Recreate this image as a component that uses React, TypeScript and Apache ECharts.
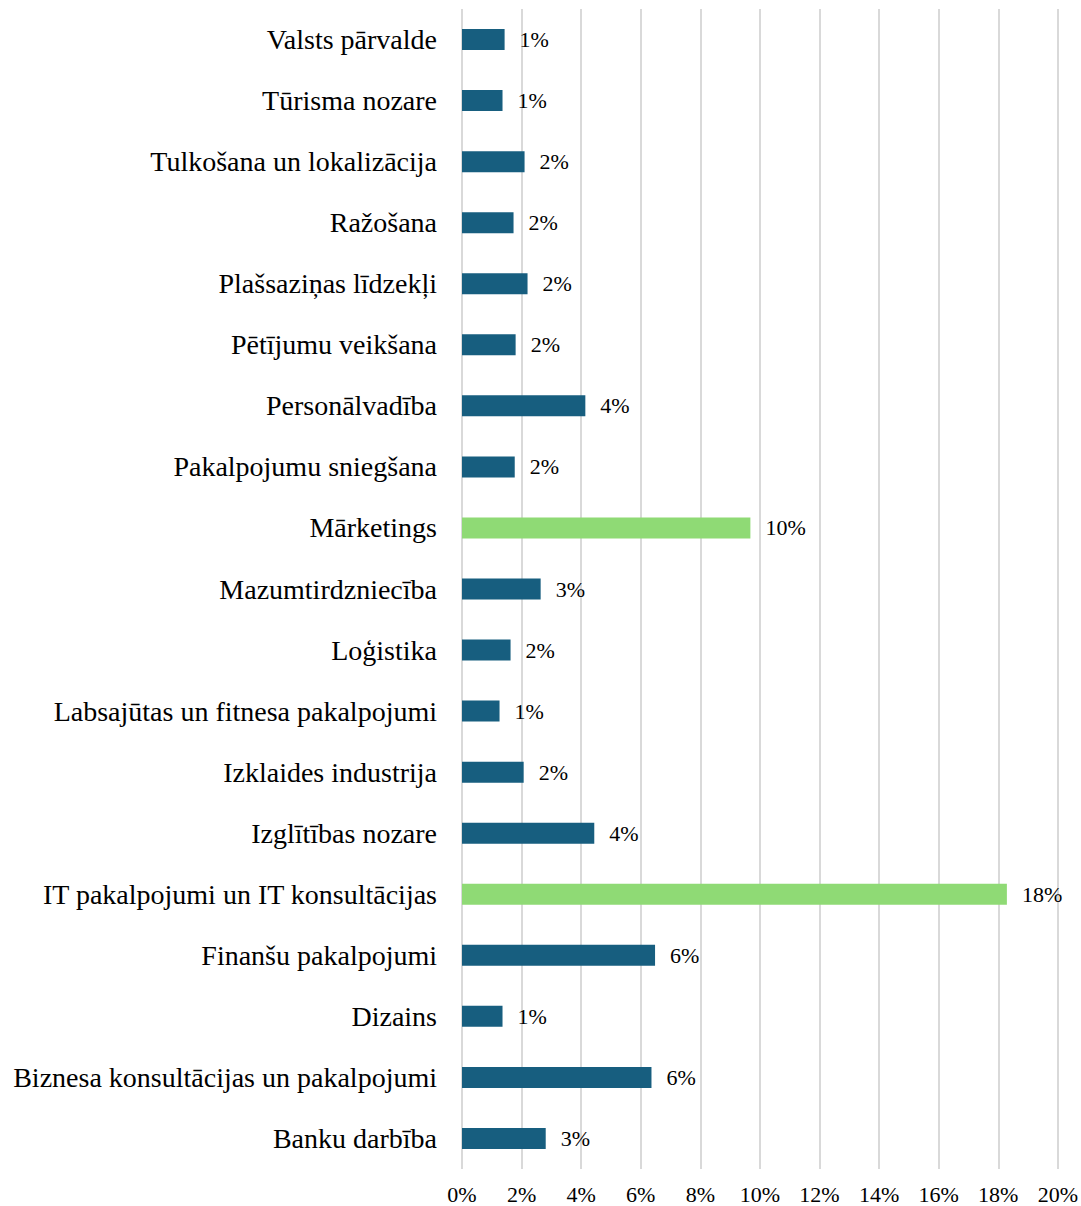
import React, { useEffect, useRef } from "react";
import * as echarts from "echarts";

// Top-to-bottom order as displayed
const categories = [
  "Valsts pārvalde",
  "Tūrisma nozare",
  "Tulkošana un lokalizācija",
  "Ražošana",
  "Plašsaziņas līdzekļi",
  "Pētījumu veikšana",
  "Personālvadība",
  "Pakalpojumu sniegšana",
  "Mārketings",
  "Mazumtirdzniecība",
  "Loģistika",
  "Labsajūtas un fitnesa pakalpojumi",
  "Izklaides industrija",
  "Izglītības nozare",
  "IT pakalpojumi un IT konsultācijas",
  "Finanšu pakalpojumi",
  "Dizains",
  "Biznesa konsultācijas un pakalpojumi",
  "Banku darbība",
];

const values = [
  1.43, 1.36, 2.1, 1.73, 2.2, 1.8, 4.14, 1.77, 9.68, 2.64, 1.63, 1.26, 2.07,
  4.44, 18.29, 6.48, 1.36, 6.36, 2.81,
];

const highlighted = ["Mārketings", "IT pakalpojumi un IT konsultācijas"];

const xTicks = [0, 2, 4, 6, 8, 10, 12, 14, 16, 18, 20];

const BLUE = "#175e7f";
const GREEN = "#8fda75";
const FONT = "'Liberation Serif', 'Times New Roman', serif";

export default function App() {
  const ref = useRef<HTMLDivElement>(null);

  useEffect(() => {
    if (!ref.current) return;
    const chart = echarts.init(ref.current, null, { renderer: "svg" });
    const cats = [...categories].reverse();
    const vals = [...values].reverse();
    chart.setOption({
      animation: false,
      backgroundColor: "#ffffff",
      grid: { left: 462, right: 22, top: 9, bottom: 37, containLabel: false },
      xAxis: {
        type: "value",
        min: xTicks[0],
        max: xTicks[xTicks.length - 1],
        interval: 2,
        axisLine: { show: false },
        axisTick: { show: false },
        splitLine: { show: true, lineStyle: { color: "#d9d9d9", width: 2 } },
        axisLabel: {
          color: "#000",
          fontFamily: FONT,
          fontSize: 22,
          margin: 14,
          formatter: (v: number) => `${v}%`,
        },
      },
      yAxis: {
        type: "category",
        data: cats,
        axisLine: { show: false },
        axisTick: { show: false },
        axisLabel: {
          color: "#000",
          fontFamily: FONT,
          fontSize: 28,
          margin: 25,
        },
      },
      series: [
        {
          type: "bar",
          barWidth: 21,
          data: vals.map((v, i) => ({
            value: v,
            itemStyle: {
              color: highlighted.includes(cats[i]) ? GREEN : BLUE,
            },
          })),
          label: {
            show: true,
            position: "right",
            distance: 15,
            color: "#000",
            fontFamily: FONT,
            fontSize: 22,
            formatter: (p: any) => `${Math.round(p.value)}%`,
          },
        },
      ],
    });
    return () => chart.dispose();
  }, []);

  return (
    <div
      ref={ref}
      style={{ position: "fixed", left: 0, top: 0, width: 1081, height: 1206 }}
    />
  );
}
